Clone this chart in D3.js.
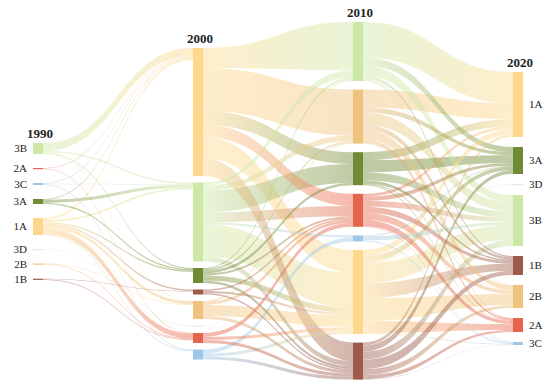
<!DOCTYPE html>
<html><head><meta charset="utf-8">
<script src="https://cdn.jsdelivr.net/npm/d3@7"></script>
<style>body{margin:0;background:#fff} svg{display:block}</style>
</head><body><svg id="chart" width="550" height="387"></svg>
<script>
// ---------- DATA ----------
const years = ["1990", "2000", "2010", "2020"];
const classes = ["1A", "1B", "2A", "2B", "3A", "3B", "3C", "3D"];
const classColors = ["#fdd88c", "#9c5b4b", "#e7644c", "#efc27d", "#6f8b36", "#cde8a6", "#9fc8e8", "#e6e6e6"];

const order1990 = ["3B", "2A", "3C", "3A", "1A", "3D", "2B", "1B"];
const values1990 = [11, 1, 2, 5, 17, 0.5, 1.2, 1.2];
const order2000 = ["1A", "3B", "3A", "1B", "2B", "3D", "2A", "3C"];
const values2000 = [128, 79, 15, 5, 18, 1, 10, 10];
const order2010 = ["3B", "2B", "3A", "2A", "3C", "1A", "1B"];
const values2010 = [59, 54, 33, 33, 6, 84, 37];
const order2020 = ["1A", "3A", "3D", "3B", "1B", "2B", "2A", "3C"];
const values2020 = [65, 27, 1, 51, 19, 23, 14, 3];

const flows1990to2000 = [
  ["3B","1A",8],["3B","3B",1.5],["3B","3A",1],["3B","2B",0.5],
  ["2A","1A",0.5],["2A","2A",0.5],
  ["3C","1A",0.7],["3C","3B",0.5],["3C","3C",0.8],
  ["3A","1A",0.7],["3A","3B",3],["3A","3A",1.3],
  ["1A","1A",2],["1A","3B",2],["1A","3A",1.5],["1A","1B",1.5],["1A","2B",3],["1A","3D",0.5],["1A","2A",5.5],["1A","3C",1],
  ["3D","3D",0.5],
  ["2B","2B",0.6],["2B","2A",0.6],
  ["1B","1B",0.6],["1B","2A",0.6]
];
const flows2000to2010 = [
  ["1A","3B",20],["1A","2B",43],["1A","3A",14],["1A","2A",12],["1A","1A",21],["1A","1B",18],
  ["3B","3B",3],["3B","2B",5],["3B","3A",22],["3B","2A",10],["3B","3C",2],["3B","1A",32],["3B","1B",5],
  ["3A","3B",1],["3A","2B",1.5],["3A","3A",3],["3A","2A",2],["3A","1A",5],["3A","1B",2.5],
  ["1B","2A",1.5],["1B","1A",2],["1B","1B",1.5],
  ["2B","2B",1],["2B","2A",3],["2B","1A",11],["2B","1B",3],
  ["3D","3B",0.5],["3D","1A",0.5],
  ["2A","2A",4],["2A","1A",3],["2A","1B",3],
  ["3C","3C",4],["3C","1A",3],["3C","1B",3]
];
const flows2010to2020 = [
  ["3B","1A",35.5],["3B","3A",8],["3B","3B",10],["3B","1B",3],["3B","2B",1],["3B","2A",1],["3B","3C",0.5],
  ["2B","1A",18],["2B","3A",5],["2B","3B",12],["2B","1B",5],["2B","2B",9.5],["2B","2A",4],["2B","3C",0.5],
  ["3A","1A",8],["3A","3A",12],["3A","3B",8],["3A","1B",3],["3A","2B",1],["3A","2A",1],
  ["2A","1A",3],["2A","3A",4],["2A","3B",6],["2A","1B",6],["2A","2B",7],["2A","2A",6.5],["2A","3C",0.5],
  ["3C","3A",1],["3C","3B",4],["3C","3C",1],
  ["1A","1A",6],["1A","3A",6],["1A","3D",1],["1A","3B",20],["1A","1B",15],["1A","2B",23],["1A","2A",12],["1A","3C",1],
  ["1B","1A",3],["1B","3A",6],["1B","3B",8],["1B","1B",9.5],["1B","2B",6],["1B","2A",4],["1B","3C",0.5]
];

// ---------- LAYOUT ----------
const columns = [
  {order: order1990, values: values1990},
  {order: order2000, values: values2000},
  {order: order2010, values: values2010},
  {order: order2020, values: values2020}
];
const transitions = [flows1990to2000, flows2000to2010, flows2010to2020];
const fillTarget = [false, true, true];

const x = d3.scalePoint().domain(years).range([33, 513]);
const h = d3.scaleLinear().domain([0, 100]).range([0, 100]);
const color = d3.scaleOrdinal().domain(classes).range(classColors);
const nodeW = 10;
const colTop = [143, 48, 22, 72];
const colPad = [14, 6.5, 8.6, 10];

const svg = d3.select("#chart");
const defs = svg.append("defs");

const nodes = columns.map((col, ci) => {
  let y = colTop[ci];
  const m = new Map();
  col.order.forEach((c, i) => {
    const hh = h(col.values[i]);
    m.set(c, {cls: c, ci, x0: x(years[ci]), y0: y, y1: y + hh, hgt: hh});
    y += hh + colPad[ci];
  });
  return m;
});

const linkData = [];
transitions.forEach((flows, ti) => {
  const S = nodes[ti], T = nodes[ti + 1];
  const outSum = new Map(), inSum = new Map();
  flows.forEach(([s, t, v]) => {
    outSum.set(s, (outSum.get(s) || 0) + v);
    inSum.set(t, (inSum.get(t) || 0) + v);
  });
  const ls = flows.map(([s, t, v]) => {
    const sn = S.get(s), tn = T.get(t);
    const ws = v / outSum.get(s) * sn.hgt;
    const wt = fillTarget[ti] ? v / inSum.get(t) * tn.hgt : ws;
    return {sn, tn, v, ws, wt};
  });
  // stack at source
  S.forEach(n => {
    let y = n.y0;
    ls.filter(l => l.sn === n).sort((a, b) => a.tn.y0 - b.tn.y0).forEach(l => { l.sy0 = y; y += l.ws; l.sy1 = y; });
  });
  T.forEach(n => {
    let y = n.y0;
    ls.filter(l => l.tn === n).sort((a, b) => a.sn.y0 - b.sn.y0).forEach(l => { l.ty0 = y; y += l.wt; l.ty1 = y; });
  });
  ls.forEach(l => linkData.push(l));
});

function ribbon(l) {
  const x0 = l.sn.x0 + nodeW, x1 = l.tn.x0, xm = (x0 + x1) / 2;
  return `M${x0},${l.sy0}C${xm},${l.sy0} ${xm},${l.ty0} ${x1},${l.ty0}` +
         `L${x1},${l.ty1}C${xm},${l.ty1} ${xm},${l.sy1} ${x0},${l.sy1}Z`;
}

linkData.sort((a, b) => (b.ws + b.wt) - (a.ws + a.wt));
linkData.forEach((l, i) => {
  const g = defs.append("linearGradient").attr("id", "g" + i)
    .attr("gradientUnits", "userSpaceOnUse")
    .attr("x1", l.sn.x0 + nodeW).attr("x2", l.tn.x0).attr("y1", 0).attr("y2", 0);
  g.append("stop").attr("offset", "0%").attr("stop-color", color(l.sn.cls));
  g.append("stop").attr("offset", "100%").attr("stop-color", color(l.tn.cls));
  l.grad = "url(#g" + i + ")";
});

svg.append("g").selectAll("path").data(linkData).join("path")
  .attr("d", ribbon)
  .attr("fill", d => d.grad)
  .attr("fill-opacity", 0.45);

const allNodes = nodes.flatMap(m => Array.from(m.values()));
svg.append("g").selectAll("rect").data(allNodes).join("rect")
  .attr("x", d => d.x0).attr("y", d => d.y0)
  .attr("width", nodeW).attr("height", d => Math.max(d.hgt, 1.2))
  .attr("fill", d => color(d.cls));

// year labels
svg.append("g").selectAll("text").data(years).join("text")
  .attr("x", (d) => x(d) + nodeW / 2 + 2)
  .attr("y", (d, i) => colTop[i] - 5)
  .attr("text-anchor", "middle")
  .attr("font-family", "'Liberation Serif', 'DejaVu Serif', serif")
  .attr("font-weight", "bold").attr("font-size", 13).attr("fill", "#222")
  .text(d => d);

// node labels for first and last columns
const first = Array.from(nodes[0].values()), last = Array.from(nodes[3].values());
svg.append("g").selectAll("text").data(first).join("text")
  .attr("x", d => d.x0 - 6).attr("y", d => (d.y0 + d.y1) / 2)
  .attr("dy", "0.35em").attr("text-anchor", "end")
  .attr("font-family", "'Liberation Serif', serif").attr("font-size", 11).attr("fill", "#222")
  .text(d => d.cls);
svg.append("g").selectAll("text").data(last).join("text")
  .attr("x", d => d.x0 + nodeW + 6).attr("y", d => (d.y0 + d.y1) / 2)
  .attr("dy", "0.35em").attr("text-anchor", "start")
  .attr("font-family", "'Liberation Serif', serif").attr("font-size", 11).attr("fill", "#222")
  .text(d => d.cls);
</script></body></html>
